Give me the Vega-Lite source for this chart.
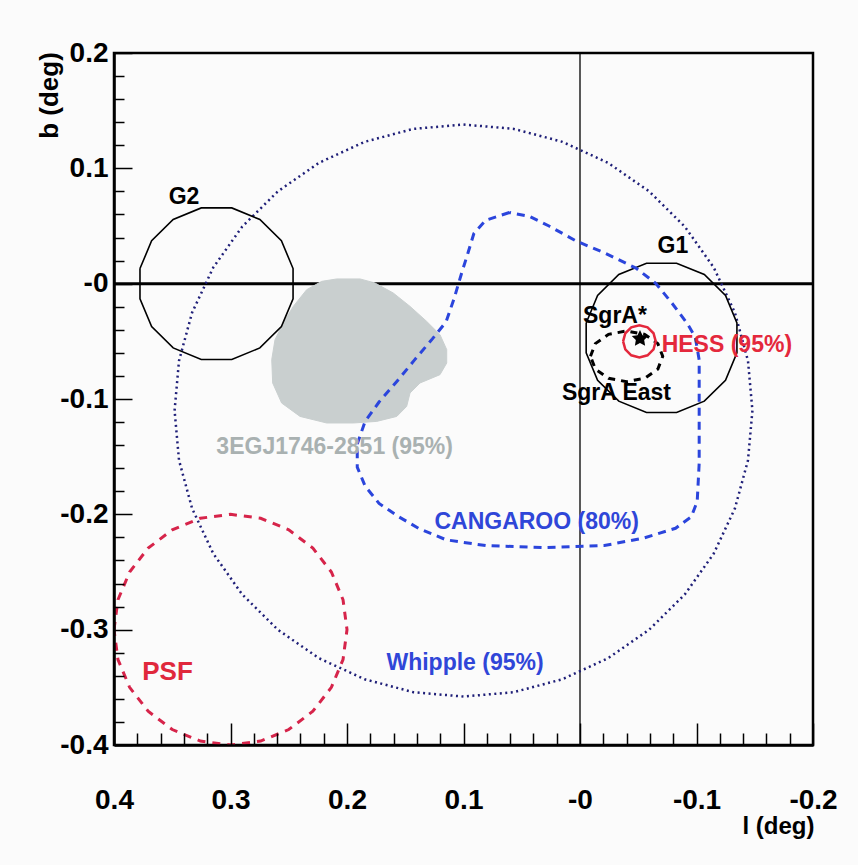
{
  "$schema": "https://vega.github.io/schema/vega-lite/v6.json",
  "width": 699,
  "height": 692,
  "autosize": {"type": "none"},
  "padding": {"left": 114, "top": 53, "right": 45, "bottom": 120},
  "background": "#fbfbfb",
  "config": {"view": {"stroke": "black", "strokeWidth": 2.5}, "font": "Liberation Sans"},
  "datasets": {
    "shapes": [
      {"s": "hline", "i": 0, "l": 0.4, "b": 0}, {"s": "hline", "i": 1, "l": -0.2, "b": 0},
      {"s": "vline", "i": 0, "l": 0, "b": -0.4}, {"s": "vline", "i": 1, "l": 0, "b": 0.2},
      {"s": "G2", "i": 0, "l": 0.3777, "b": 0.0131}, {"s": "G2", "i": 1, "l": 0.3677, "b": 0.0372},
      {"s": "G2", "i": 2, "l": 0.3492, "b": 0.0557}, {"s": "G2", "i": 3, "l": 0.3251, "b": 0.0657},
      {"s": "G2", "i": 4, "l": 0.2989, "b": 0.0657}, {"s": "G2", "i": 5, "l": 0.2748, "b": 0.0557},
      {"s": "G2", "i": 6, "l": 0.2563, "b": 0.0372}, {"s": "G2", "i": 7, "l": 0.2463, "b": 0.0131},
      {"s": "G2", "i": 8, "l": 0.2463, "b": -0.0131}, {"s": "G2", "i": 9, "l": 0.2563, "b": -0.0372},
      {"s": "G2", "i": 10, "l": 0.2748, "b": -0.0557}, {"s": "G2", "i": 11, "l": 0.2989, "b": -0.0657},
      {"s": "G2", "i": 12, "l": 0.3251, "b": -0.0657}, {"s": "G2", "i": 13, "l": 0.3492, "b": -0.0557},
      {"s": "G2", "i": 14, "l": 0.3677, "b": -0.0372}, {"s": "G2", "i": 15, "l": 0.3777, "b": -0.0131},
      {"s": "G2", "i": 16, "l": 0.3777, "b": 0.0131},
      {"s": "G1", "i": 0, "l": -0.0053, "b": -0.0341}, {"s": "G1", "i": 1, "l": -0.0151, "b": -0.0103},
      {"s": "G1", "i": 2, "l": -0.0333, "b": 0.0079}, {"s": "G1", "i": 3, "l": -0.0571, "b": 0.0177},
      {"s": "G1", "i": 4, "l": -0.0829, "b": 0.0177}, {"s": "G1", "i": 5, "l": -0.1067, "b": 0.0079},
      {"s": "G1", "i": 6, "l": -0.1249, "b": -0.0103}, {"s": "G1", "i": 7, "l": -0.1347, "b": -0.0341},
      {"s": "G1", "i": 8, "l": -0.1347, "b": -0.0599}, {"s": "G1", "i": 9, "l": -0.1249, "b": -0.0837},
      {"s": "G1", "i": 10, "l": -0.1067, "b": -0.1019}, {"s": "G1", "i": 11, "l": -0.0829, "b": -0.1117},
      {"s": "G1", "i": 12, "l": -0.0571, "b": -0.1117}, {"s": "G1", "i": 13, "l": -0.0333, "b": -0.1019},
      {"s": "G1", "i": 14, "l": -0.0151, "b": -0.0837}, {"s": "G1", "i": 15, "l": -0.0053, "b": -0.0599},
      {"s": "G1", "i": 16, "l": -0.0053, "b": -0.0341},
      {"s": "Whipple", "i": 0, "l": 0.348, "b": -0.11}, {"s": "Whipple", "i": 1, "l": 0.3442, "b": -0.0669},
      {"s": "Whipple", "i": 2, "l": 0.333, "b": -0.0252}, {"s": "Whipple", "i": 3, "l": 0.3148, "b": 0.014},
      {"s": "Whipple", "i": 4, "l": 0.29, "b": 0.0494}, {"s": "Whipple", "i": 5, "l": 0.2594, "b": 0.08},
      {"s": "Whipple", "i": 6, "l": 0.224, "b": 0.1048}, {"s": "Whipple", "i": 7, "l": 0.1848, "b": 0.123},
      {"s": "Whipple", "i": 8, "l": 0.1431, "b": 0.1342}, {"s": "Whipple", "i": 9, "l": 0.1, "b": 0.138},
      {"s": "Whipple", "i": 10, "l": 0.0569, "b": 0.1342}, {"s": "Whipple", "i": 11, "l": 0.0152, "b": 0.123},
      {"s": "Whipple", "i": 12, "l": -0.024, "b": 0.1048}, {"s": "Whipple", "i": 13, "l": -0.0594, "b": 0.08},
      {"s": "Whipple", "i": 14, "l": -0.09, "b": 0.0494}, {"s": "Whipple", "i": 15, "l": -0.1148, "b": 0.014},
      {"s": "Whipple", "i": 16, "l": -0.133, "b": -0.0252}, {"s": "Whipple", "i": 17, "l": -0.1442, "b": -0.0669},
      {"s": "Whipple", "i": 18, "l": -0.148, "b": -0.11}, {"s": "Whipple", "i": 19, "l": -0.1442, "b": -0.1531},
      {"s": "Whipple", "i": 20, "l": -0.133, "b": -0.1948}, {"s": "Whipple", "i": 21, "l": -0.1148, "b": -0.234},
      {"s": "Whipple", "i": 22, "l": -0.09, "b": -0.2694}, {"s": "Whipple", "i": 23, "l": -0.0594, "b": -0.3},
      {"s": "Whipple", "i": 24, "l": -0.024, "b": -0.3248}, {"s": "Whipple", "i": 25, "l": 0.0152, "b": -0.343},
      {"s": "Whipple", "i": 26, "l": 0.0569, "b": -0.3542}, {"s": "Whipple", "i": 27, "l": 0.1, "b": -0.358},
      {"s": "Whipple", "i": 28, "l": 0.1431, "b": -0.3542}, {"s": "Whipple", "i": 29, "l": 0.1848, "b": -0.343},
      {"s": "Whipple", "i": 30, "l": 0.224, "b": -0.3248}, {"s": "Whipple", "i": 31, "l": 0.2594, "b": -0.3},
      {"s": "Whipple", "i": 32, "l": 0.29, "b": -0.2694}, {"s": "Whipple", "i": 33, "l": 0.3148, "b": -0.234},
      {"s": "Whipple", "i": 34, "l": 0.333, "b": -0.1948}, {"s": "Whipple", "i": 35, "l": 0.3442, "b": -0.1531},
      {"s": "Whipple", "i": 36, "l": 0.348, "b": -0.11},
      {"s": "PSF", "i": 0, "l": 0.4, "b": -0.3}, {"s": "PSF", "i": 1, "l": 0.3966, "b": -0.2741},
      {"s": "PSF", "i": 2, "l": 0.3866, "b": -0.25}, {"s": "PSF", "i": 3, "l": 0.3707, "b": -0.2293},
      {"s": "PSF", "i": 4, "l": 0.35, "b": -0.2134}, {"s": "PSF", "i": 5, "l": 0.3259, "b": -0.2034},
      {"s": "PSF", "i": 6, "l": 0.3, "b": -0.2}, {"s": "PSF", "i": 7, "l": 0.2741, "b": -0.2034},
      {"s": "PSF", "i": 8, "l": 0.25, "b": -0.2134}, {"s": "PSF", "i": 9, "l": 0.2293, "b": -0.2293},
      {"s": "PSF", "i": 10, "l": 0.2134, "b": -0.25}, {"s": "PSF", "i": 11, "l": 0.2034, "b": -0.2741},
      {"s": "PSF", "i": 12, "l": 0.2, "b": -0.3}, {"s": "PSF", "i": 13, "l": 0.2034, "b": -0.3259},
      {"s": "PSF", "i": 14, "l": 0.2134, "b": -0.35}, {"s": "PSF", "i": 15, "l": 0.2293, "b": -0.3707},
      {"s": "PSF", "i": 16, "l": 0.25, "b": -0.3866}, {"s": "PSF", "i": 17, "l": 0.2741, "b": -0.3966},
      {"s": "PSF", "i": 18, "l": 0.3, "b": -0.4}, {"s": "PSF", "i": 19, "l": 0.3259, "b": -0.3966},
      {"s": "PSF", "i": 20, "l": 0.35, "b": -0.3866}, {"s": "PSF", "i": 21, "l": 0.3707, "b": -0.3707},
      {"s": "PSF", "i": 22, "l": 0.3866, "b": -0.35}, {"s": "PSF", "i": 23, "l": 0.3966, "b": -0.3259},
      {"s": "PSF", "i": 24, "l": 0.4, "b": -0.3},
      {"s": "CANGAROO", "i": 0, "l": 0.0606, "b": 0.0617}, {"s": "CANGAROO", "i": 1, "l": 0.0809, "b": 0.055},
      {"s": "CANGAROO", "i": 2, "l": 0.0911, "b": 0.0435}, {"s": "CANGAROO", "i": 3, "l": 0.0961, "b": 0.0268},
      {"s": "CANGAROO", "i": 4, "l": 0.1013, "b": 0.0102}, {"s": "CANGAROO", "i": 5, "l": 0.1081, "b": -0.013},
      {"s": "CANGAROO", "i": 6, "l": 0.1149, "b": -0.033}, {"s": "CANGAROO", "i": 7, "l": 0.1267, "b": -0.0479},
      {"s": "CANGAROO", "i": 8, "l": 0.142, "b": -0.0661}, {"s": "CANGAROO", "i": 9, "l": 0.1555, "b": -0.0827},
      {"s": "CANGAROO", "i": 10, "l": 0.1725, "b": -0.1026}, {"s": "CANGAROO", "i": 11, "l": 0.1844, "b": -0.1193},
      {"s": "CANGAROO", "i": 12, "l": 0.1912, "b": -0.1391}, {"s": "CANGAROO", "i": 13, "l": 0.1912, "b": -0.1591},
      {"s": "CANGAROO", "i": 14, "l": 0.1844, "b": -0.1756}, {"s": "CANGAROO", "i": 15, "l": 0.1725, "b": -0.1905},
      {"s": "CANGAROO", "i": 16, "l": 0.1555, "b": -0.2022}, {"s": "CANGAROO", "i": 17, "l": 0.1386, "b": -0.2121},
      {"s": "CANGAROO", "i": 18, "l": 0.1149, "b": -0.2221}, {"s": "CANGAROO", "i": 19, "l": 0.0809, "b": -0.2271},
      {"s": "CANGAROO", "i": 20, "l": 0.03, "b": -0.2288}, {"s": "CANGAROO", "i": 21, "l": -0.0209, "b": -0.2271},
      {"s": "CANGAROO", "i": 22, "l": -0.0548, "b": -0.2205}, {"s": "CANGAROO", "i": 23, "l": -0.082, "b": -0.2121},
      {"s": "CANGAROO", "i": 24, "l": -0.0955, "b": -0.2022}, {"s": "CANGAROO", "i": 25, "l": -0.1006, "b": -0.1889},
      {"s": "CANGAROO", "i": 26, "l": -0.1023, "b": -0.1558}, {"s": "CANGAROO", "i": 27, "l": -0.1023, "b": -0.106},
      {"s": "CANGAROO", "i": 28, "l": -0.1023, "b": -0.0661}, {"s": "CANGAROO", "i": 29, "l": -0.0989, "b": -0.0462},
      {"s": "CANGAROO", "i": 30, "l": -0.0921, "b": -0.0346}, {"s": "CANGAROO", "i": 31, "l": -0.0785, "b": -0.0163},
      {"s": "CANGAROO", "i": 32, "l": -0.065, "b": 0.0003}, {"s": "CANGAROO", "i": 33, "l": -0.048, "b": 0.0135},
      {"s": "CANGAROO", "i": 34, "l": -0.0209, "b": 0.0268}, {"s": "CANGAROO", "i": 35, "l": 0.0029, "b": 0.0368},
      {"s": "CANGAROO", "i": 36, "l": 0.0266, "b": 0.05}, {"s": "CANGAROO", "i": 37, "l": 0.0436, "b": 0.0584},
      {"s": "CANGAROO", "i": 38, "l": 0.0606, "b": 0.0617},
      {"s": "SgrAEast", "i": 0, "l": -0.009, "b": -0.063}, {"s": "SgrAEast", "i": 1, "l": -0.01315, "b": -0.052},
      {"s": "SgrAEast", "i": 2, "l": -0.0245, "b": -0.04395}, {"s": "SgrAEast", "i": 3, "l": -0.04, "b": -0.041},
      {"s": "SgrAEast", "i": 4, "l": -0.0555, "b": -0.04395}, {"s": "SgrAEast", "i": 5, "l": -0.06685, "b": -0.052},
      {"s": "SgrAEast", "i": 6, "l": -0.071, "b": -0.063}, {"s": "SgrAEast", "i": 7, "l": -0.06685, "b": -0.074},
      {"s": "SgrAEast", "i": 8, "l": -0.0555, "b": -0.08205}, {"s": "SgrAEast", "i": 9, "l": -0.04, "b": -0.085},
      {"s": "SgrAEast", "i": 10, "l": -0.0245, "b": -0.08205}, {"s": "SgrAEast", "i": 11, "l": -0.01315, "b": -0.074},
      {"s": "SgrAEast", "i": 12, "l": -0.009, "b": -0.063},
      {"s": "HESS", "i": 0, "l": -0.037, "b": -0.05}, {"s": "HESS", "i": 1, "l": -0.0389, "b": -0.043},
      {"s": "HESS", "i": 2, "l": -0.044, "b": -0.0379}, {"s": "HESS", "i": 3, "l": -0.051, "b": -0.036},
      {"s": "HESS", "i": 4, "l": -0.058, "b": -0.0379}, {"s": "HESS", "i": 5, "l": -0.0631, "b": -0.043},
      {"s": "HESS", "i": 6, "l": -0.065, "b": -0.05}, {"s": "HESS", "i": 7, "l": -0.0631, "b": -0.057},
      {"s": "HESS", "i": 8, "l": -0.058, "b": -0.0621}, {"s": "HESS", "i": 9, "l": -0.051, "b": -0.064},
      {"s": "HESS", "i": 10, "l": -0.044, "b": -0.0621}, {"s": "HESS", "i": 11, "l": -0.0389, "b": -0.057},
      {"s": "HESS", "i": 12, "l": -0.037, "b": -0.05},
      {"s": "3EG", "i": 0, "l": 0.2217, "b": 0.002}, {"s": "3EG", "i": 1, "l": 0.2088, "b": 0.0041},
      {"s": "3EG", "i": 2, "l": 0.1888, "b": 0.0041}, {"s": "3EG", "i": 3, "l": 0.176, "b": 0.0006},
      {"s": "3EG", "i": 4, "l": 0.1603, "b": -0.0081}, {"s": "3EG", "i": 5, "l": 0.1459, "b": -0.0197},
      {"s": "3EG", "i": 6, "l": 0.1316, "b": -0.0327}, {"s": "3EG", "i": 7, "l": 0.1202, "b": -0.0442},
      {"s": "3EG", "i": 8, "l": 0.1144, "b": -0.0572}, {"s": "3EG", "i": 9, "l": 0.1144, "b": -0.0688},
      {"s": "3EG", "i": 10, "l": 0.1202, "b": -0.0789}, {"s": "3EG", "i": 11, "l": 0.1373, "b": -0.0861},
      {"s": "3EG", "i": 12, "l": 0.1459, "b": -0.0948}, {"s": "3EG", "i": 13, "l": 0.1488, "b": -0.1064},
      {"s": "3EG", "i": 14, "l": 0.1573, "b": -0.1151}, {"s": "3EG", "i": 15, "l": 0.1745, "b": -0.1194},
      {"s": "3EG", "i": 16, "l": 0.1946, "b": -0.1208}, {"s": "3EG", "i": 17, "l": 0.2174, "b": -0.1208},
      {"s": "3EG", "i": 18, "l": 0.2403, "b": -0.1151}, {"s": "3EG", "i": 19, "l": 0.2561, "b": -0.1035},
      {"s": "3EG", "i": 20, "l": 0.2638, "b": -0.0861}, {"s": "3EG", "i": 21, "l": 0.2646, "b": -0.0659},
      {"s": "3EG", "i": 22, "l": 0.2618, "b": -0.0486}, {"s": "3EG", "i": 23, "l": 0.2547, "b": -0.0341},
      {"s": "3EG", "i": 24, "l": 0.2461, "b": -0.0197}, {"s": "3EG", "i": 25, "l": 0.2346, "b": -0.0052},
      {"s": "3EG", "i": 26, "l": 0.2217, "b": 0.002}
    ],
    "markers": [{"s": "SgrA*", "l": -0.0515, "b": -0.0477}],
    "labels": [
      {"t": "G2", "l": 0.3399, "b": 0.0755, "g": "black"},
      {"t": "G1", "l": -0.0798, "b": 0.0325, "g": "black"},
      {"t": "SgrA*", "l": -0.03, "b": -0.0282, "g": "black"},
      {"t": "SgrA East", "l": -0.0313, "b": -0.095, "g": "black"},
      {"t": "HESS (95%)", "l": -0.0701, "b": -0.0529, "g": "hess"},
      {"t": "3EGJ1746-2851 (95%)", "l": 0.2106, "b": -0.1414, "g": "gray"},
      {"t": "CANGAROO (80%)", "l": 0.0372, "b": -0.2069, "g": "blue"},
      {"t": "Whipple (95%)", "l": 0.0987, "b": -0.3287, "g": "blue"},
      {"t": "PSF", "l": 0.3541, "b": -0.3365, "g": "psf"}
    ]
  },
  "encoding": {
    "x": {"field": "l", "type": "quantitative", "scale": {"domain": [-0.2, 0.4], "reverse": true, "nice": false, "zero": false}, "axis": null},
    "y": {"field": "b", "type": "quantitative", "scale": {"domain": [-0.4, 0.2], "nice": false, "zero": false}, "axis": null}
  },
  "layer": [
    {
      "data": {"name": "shapes"},
      "transform": [{"filter": "datum.s == 'hline'"}],
      "mark": {"type": "line", "color": "black", "strokeWidth": 3},
      "encoding": {
        "order": {"field": "i"},
        "x": {"field": "l", "type": "quantitative", "scale": {"domain": [-0.2, 0.4], "reverse": true, "nice": false, "zero": false},
          "axis": {"orient": "bottom", "values": [0.4, 0.3, 0.2, 0.1, 0, -0.1, -0.2], "tickSize": -22, "tickWidth": 1.5, "tickColor": "black",
            "domain": true, "domainColor": "black", "domainWidth": 2.5, "grid": false,
            "labelExpr": "datum.value == 0 ? '-0' : '' + datum.value", "labelFont": "Liberation Sans", "labelFontWeight": "bold",
            "labelFontSize": 28, "labelColor": "black", "labelPadding": 77, "labelBaseline": "middle", "labelFlush": false,
            "labelOverlap": false, "labelBound": false,
            "title": "l (deg)", "titleFont": "Liberation Sans", "titleFontWeight": "bold", "titleFontSize": 24, "titleColor": "black",
            "titleX": 700, "titleY": 88, "titleAlign": "right", "titleBaseline": "alphabetic", "zindex": 1}},
        "y": {"field": "b", "type": "quantitative", "scale": {"domain": [-0.4, 0.2], "nice": false, "zero": false},
          "axis": {"orient": "left", "values": [0.2, 0.1, 0, -0.1, -0.2, -0.3, -0.4], "tickSize": -18, "tickWidth": 1.5, "tickColor": "black",
            "domain": true, "domainColor": "black", "domainWidth": 2.5, "grid": false,
            "labelExpr": "datum.value == 0 ? '-0' : '' + datum.value", "labelFont": "Liberation Sans", "labelFontWeight": "bold",
            "labelFontSize": 28, "labelColor": "black", "labelPadding": 24, "labelBaseline": "middle", "labelFlush": false,
            "labelOverlap": false, "labelBound": false,
            "title": "b (deg)", "titleFont": "Liberation Sans", "titleFontWeight": "bold", "titleFontSize": 26, "titleColor": "black",
            "titleX": -57, "titleY": 42, "titleAngle": -90, "titleAlign": "center", "titleBaseline": "alphabetic", "zindex": 1}}
      }
    },
    {
      "data": {"name": "shapes"},
      "transform": [{"filter": "datum.s == 'vline'"}],
      "mark": {"type": "line", "color": "black", "strokeWidth": 1.3},
      "encoding": {
        "order": {"field": "i"},
        "x": {"field": "l", "type": "quantitative", "scale": {"domain": [-0.2, 0.4], "reverse": true, "nice": false, "zero": false},
          "axis": {"orient": "bottom", "values": [0.38, 0.36, 0.34, 0.32, 0.28, 0.26, 0.24, 0.22, 0.18, 0.16, 0.14, 0.12, 0.08, 0.06, 0.04, 0.02, -0.02, -0.04, -0.06, -0.08, -0.12, -0.14, -0.16, -0.18],
            "tickSize": -12, "tickWidth": 1.5, "tickColor": "black", "labels": false, "domain": false, "grid": false, "title": null, "zindex": 1}},
        "y": {"field": "b", "type": "quantitative", "scale": {"domain": [-0.4, 0.2], "nice": false, "zero": false},
          "axis": {"orient": "left", "values": [0.18, 0.16, 0.14, 0.12, 0.08, 0.06, 0.04, 0.02, -0.02, -0.04, -0.06, -0.08, -0.12, -0.14, -0.16, -0.18, -0.22, -0.24, -0.26, -0.28, -0.32, -0.34, -0.36, -0.38],
            "tickSize": -10, "tickWidth": 1.5, "tickColor": "black", "labels": false, "domain": false, "grid": false, "title": null, "zindex": 1}}
      }
    },
    {
      "data": {"name": "shapes"},
      "transform": [{"filter": "datum.s == '3EG'"}],
      "mark": {"type": "line", "fill": "#c9cfcf", "stroke": "#c9cfcf", "strokeWidth": 1, "clip": true},
      "encoding": {"order": {"field": "i"}}
    },
    {
      "data": {"name": "shapes"},
      "transform": [{"filter": "datum.s == 'Whipple'"}],
      "mark": {"type": "line", "color": "#1f1f78", "strokeWidth": 2.5, "strokeDash": [2, 3.5], "clip": true},
      "encoding": {"order": {"field": "i"}}
    },
    {
      "data": {"name": "shapes"},
      "transform": [{"filter": "datum.s == 'G1' || datum.s == 'G2'"}],
      "mark": {"type": "line", "color": "black", "strokeWidth": 1.6, "clip": true},
      "encoding": {"order": {"field": "i"}, "detail": {"field": "s"}}
    },
    {
      "data": {"name": "shapes"},
      "transform": [{"filter": "datum.s == 'PSF'"}],
      "mark": {"type": "line", "color": "#d6244a", "strokeWidth": 3, "strokeDash": [8, 7], "clip": true},
      "encoding": {"order": {"field": "i"}}
    },
    {
      "data": {"name": "shapes"},
      "transform": [{"filter": "datum.s == 'CANGAROO'"}],
      "mark": {"type": "line", "color": "#2b45dc", "strokeWidth": 3, "strokeDash": [8, 6], "clip": true},
      "encoding": {"order": {"field": "i"}}
    },
    {
      "data": {"name": "shapes"},
      "transform": [{"filter": "datum.s == 'SgrAEast'"}],
      "mark": {"type": "line", "color": "black", "strokeWidth": 3, "strokeDash": [7, 6], "clip": true},
      "encoding": {"order": {"field": "i"}}
    },
    {
      "data": {"name": "shapes"},
      "transform": [{"filter": "datum.s == 'HESS'"}],
      "mark": {"type": "line", "color": "#e4283c", "strokeWidth": 2.5, "clip": true},
      "encoding": {"order": {"field": "i"}}
    },
    {
      "data": {"name": "markers"},
      "mark": {"type": "point", "filled": true, "color": "black", "opacity": 1, "size": 300,
        "shape": "M0,-1L0.29,-0.4L0.95,-0.31L0.48,0.15L0.59,0.81L0,0.5L-0.59,0.81L-0.48,0.15L-0.95,-0.31L-0.29,-0.4Z"}
    },
    {
      "data": {"name": "labels"},
      "transform": [{"filter": "datum.g == 'black'"}],
      "mark": {"type": "text", "font": "Liberation Sans", "fontWeight": "bold", "fontSize": 23, "color": "black", "align": "center", "baseline": "middle"},
      "encoding": {"text": {"field": "t"}}
    },
    {
      "data": {"name": "labels"},
      "transform": [{"filter": "datum.g == 'hess'"}],
      "mark": {"type": "text", "font": "Liberation Sans", "fontWeight": "bold", "fontSize": 23, "color": "#e4283c", "align": "left", "baseline": "middle"},
      "encoding": {"text": {"field": "t"}}
    },
    {
      "data": {"name": "labels"},
      "transform": [{"filter": "datum.g == 'gray'"}],
      "mark": {"type": "text", "font": "Liberation Sans", "fontWeight": "bold", "fontSize": 23, "color": "#a9b1b1", "align": "center", "baseline": "middle"},
      "encoding": {"text": {"field": "t"}}
    },
    {
      "data": {"name": "labels"},
      "transform": [{"filter": "datum.g == 'blue'"}],
      "mark": {"type": "text", "font": "Liberation Sans", "fontWeight": "bold", "fontSize": 23, "color": "#2f46d8", "align": "center", "baseline": "middle"},
      "encoding": {"text": {"field": "t"}}
    },
    {
      "data": {"name": "labels"},
      "transform": [{"filter": "datum.g == 'psf'"}],
      "mark": {"type": "text", "font": "Liberation Sans", "fontWeight": "bold", "fontSize": 26, "color": "#e0283c", "align": "center", "baseline": "middle"},
      "encoding": {"text": {"field": "t"}}
    }
  ],
  "resolve": {"axis": {"x": "independent", "y": "independent"}}
}
